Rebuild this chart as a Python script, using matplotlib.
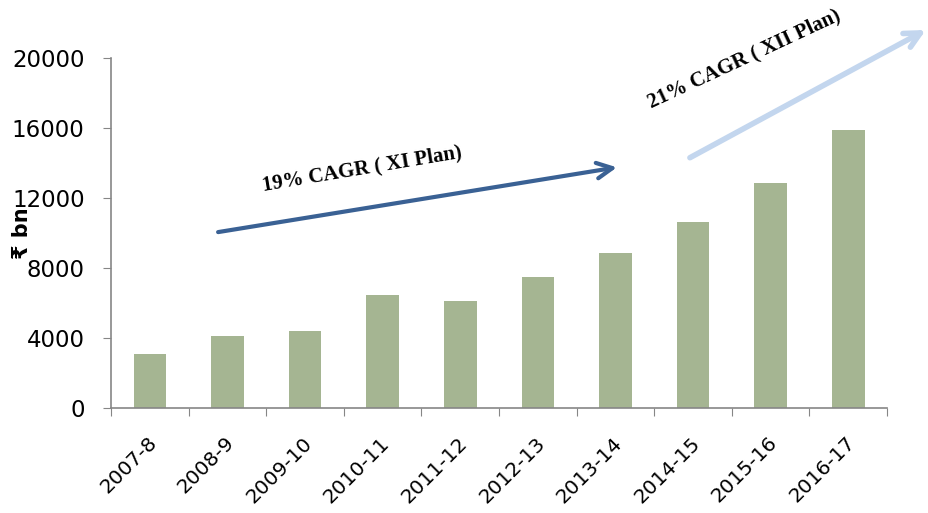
import matplotlib
matplotlib.use("Agg")
import matplotlib.pyplot as plt
import matplotlib.transforms as mtrans

categories = ["2007-8", "2008-9", "2009-10", "2010-11", "2011-12",
              "2012-13", "2013-14", "2014-15", "2015-16", "2016-17"]
values = [3100, 4100, 4400, 6450, 6100, 7500, 8850, 10600, 12850, 15900]
yticks = [0, 4000, 8000, 12000, 16000, 20000]

arrow1_start = (0.88, 10050)
arrow1_end = (6.02, 13750)
arrow2_start = (6.96, 14300)
arrow2_end = (10.0, 21600)
label1 = "19% CAGR ( XI Plan)"
label2 = "21% CAGR ( XII Plan)"

fig = plt.figure(figsize=(9.29, 5.13), dpi=100)
ax = fig.add_axes([0.1195, 0.2047, 0.8353, 0.6823])

x = list(range(len(categories)))
ax.bar(x, values, width=0.42, color="#A5B592", zorder=2)

ax.set_xlim(-0.5, len(categories) - 0.5)
ax.set_ylim(0, 20000)
ax.set_yticks(yticks)
ax.set_yticklabels([str(v) for v in yticks], fontsize=16.5)

ax.set_xticks([i - 0.5 for i in range(len(categories) + 1)])
ax.set_xticklabels([])
ax.tick_params(axis="x", which="major", length=6, color="#868686")
ax.tick_params(axis="y", length=6, color="#868686", pad=13)

base = mtrans.blended_transform_factory(ax.transData, ax.transAxes)
offset = mtrans.ScaledTranslation(4 / 100, -32 / 100, fig.dpi_scale_trans)
for i, cat in zip(x, categories):
    ax.text(i, 0, cat, transform=base + offset, fontsize=14.5, rotation=45,
            ha="right", va="center", rotation_mode="anchor", clip_on=False)

for s in ["top", "right"]:
    ax.spines[s].set_visible(False)
for s in ["left", "bottom"]:
    ax.spines[s].set_color("#868686")
    ax.spines[s].set_linewidth(1.2)

fig.text(0.024, 0.545, "₹ bn", rotation=90, fontsize=15, fontweight="bold",
         ha="center", va="center", family=["DejaVu Sans"])

ax.annotate("", xy=arrow1_end, xytext=arrow1_start,
            arrowprops=dict(arrowstyle="->", color="#3A6194", lw=3,
                            mutation_scale=28, shrinkA=0, shrinkB=0),
            annotation_clip=False, zorder=3)
ax.annotate("", xy=arrow2_end, xytext=arrow2_start,
            arrowprops=dict(arrowstyle="->", color="#C3D6EE", lw=4,
                            mutation_scale=28, shrinkA=0, shrinkB=0),
            annotation_clip=False, zorder=3)

ax.text(2.73, 13650, label1, rotation=9.5, fontsize=15, fontweight="bold",
        family="Liberation Serif", ha="center", va="center")
ax.text(7.66, 19950, label2, rotation=25, fontsize=15, fontweight="bold",
        family="Liberation Serif", ha="center", va="center", clip_on=False)

fig.savefig("out.png", dpi=100)
